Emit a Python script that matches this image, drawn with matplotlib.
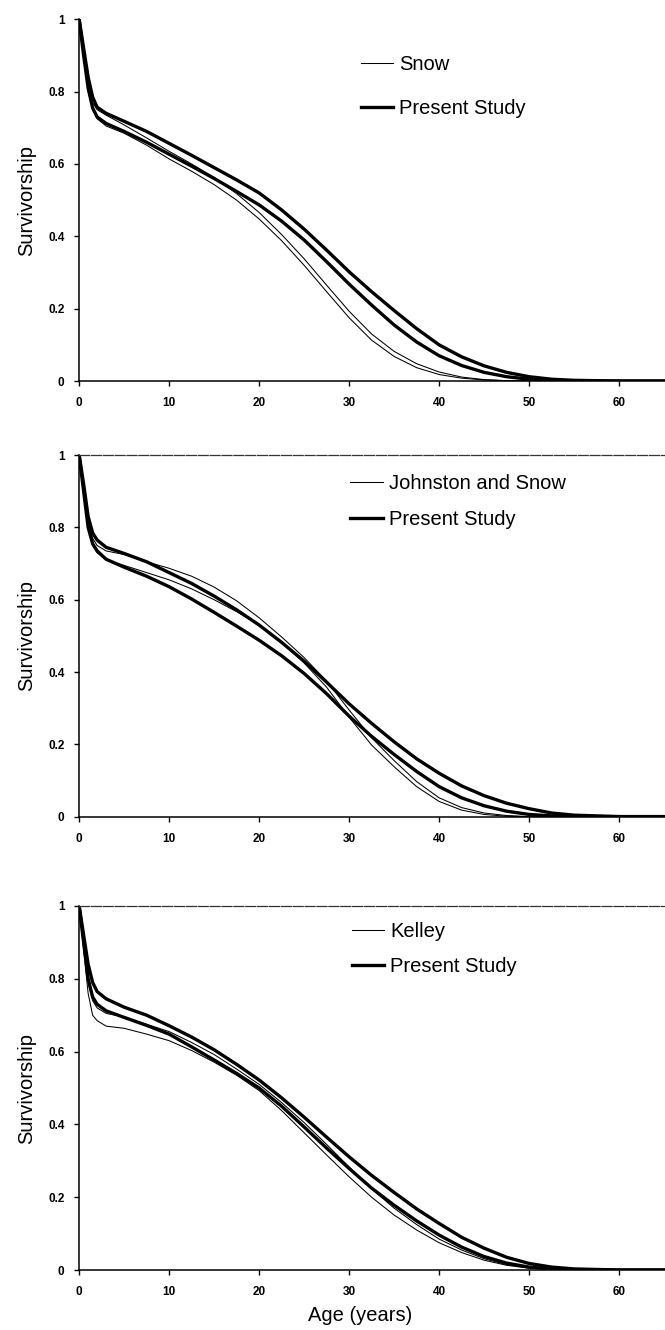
import numpy as np
import matplotlib
matplotlib.use("Agg")
import matplotlib.pyplot as plt

plt.rcParams['font.family'] = ['Liberation Sans', 'DejaVu Sans']

age = [0, 0.5, 1, 1.5, 2, 3, 5, 7.5, 10, 12.5, 15, 17.5, 20, 22.5, 25, 27.5,
       30, 32.5, 35, 37.5, 40, 42.5, 45, 47.5, 50, 52.5, 55, 60, 65]

# panel 1 - Snow
snow_a = [1, 0.91, 0.82, 0.77, 0.75, 0.735, 0.708, 0.672, 0.635, 0.6, 0.563, 0.518, 0.466, 0.405, 0.338, 0.265,
          0.193, 0.13, 0.082, 0.048, 0.025, 0.011, 0.004, 0.001, 0, 0, 0, 0, 0]
snow_b = [1, 0.9, 0.8, 0.75, 0.725, 0.705, 0.685, 0.652, 0.614, 0.58, 0.543, 0.5, 0.448, 0.388, 0.32, 0.247,
          0.175, 0.113, 0.068, 0.037, 0.018, 0.008, 0.003, 0.001, 0, 0, 0, 0, 0]
p1_a = [1, 0.92, 0.84, 0.785, 0.757, 0.74, 0.718, 0.69, 0.657, 0.624, 0.59, 0.556, 0.52, 0.473, 0.42, 0.362,
        0.302, 0.247, 0.195, 0.145, 0.1, 0.067, 0.042, 0.024, 0.012, 0.005, 0.002, 0, 0]
p1_b = [1, 0.9, 0.81, 0.755, 0.73, 0.712, 0.69, 0.66, 0.627, 0.594, 0.56, 0.524, 0.487, 0.442, 0.39, 0.33,
        0.268, 0.21, 0.155, 0.108, 0.07, 0.043, 0.024, 0.012, 0.005, 0.002, 0, 0, 0]

# panel 2 - Johnston and Snow
js_a = [1, 0.91, 0.82, 0.77, 0.75, 0.735, 0.725, 0.705, 0.687, 0.665, 0.635, 0.597, 0.55, 0.497, 0.44, 0.375,
        0.295, 0.218, 0.155, 0.097, 0.052, 0.025, 0.01, 0.003, 0, 0, 0, 0, 0]
js_b = [1, 0.9, 0.8, 0.75, 0.73, 0.71, 0.695, 0.675, 0.655, 0.63, 0.6, 0.567, 0.53, 0.482, 0.425, 0.358,
        0.275, 0.198, 0.138, 0.083, 0.042, 0.018, 0.006, 0.001, 0, 0, 0, 0, 0]
p2_a = [1, 0.92, 0.83, 0.785, 0.765, 0.745, 0.728, 0.705, 0.675, 0.645, 0.61, 0.572, 0.53, 0.482, 0.43, 0.372,
        0.312, 0.258, 0.207, 0.16, 0.12, 0.085, 0.058, 0.037, 0.022, 0.01, 0.004, 0, 0]
p2_b = [1, 0.9, 0.8, 0.755, 0.735, 0.712, 0.69, 0.665, 0.636, 0.602, 0.565, 0.527, 0.488, 0.445, 0.396, 0.34,
        0.278, 0.222, 0.172, 0.125, 0.083, 0.052, 0.03, 0.015, 0.006, 0.002, 0, 0, 0]

# panel 3 - Kelley
kel_a = [1, 0.9, 0.79, 0.74, 0.72, 0.705, 0.695, 0.675, 0.655, 0.625, 0.592, 0.552, 0.51, 0.46, 0.405, 0.345,
         0.283, 0.223, 0.17, 0.125, 0.085, 0.055, 0.031, 0.015, 0.006, 0.002, 0, 0, 0]
kel_b = [1, 0.88, 0.76, 0.7, 0.685, 0.67, 0.664, 0.648, 0.63, 0.603, 0.571, 0.535, 0.493, 0.438, 0.377, 0.316,
         0.256, 0.2, 0.151, 0.11, 0.075, 0.048, 0.027, 0.013, 0.005, 0.001, 0, 0, 0]
p3_a = [1, 0.92, 0.84, 0.79, 0.765, 0.745, 0.722, 0.7, 0.671, 0.64, 0.605, 0.565, 0.522, 0.473, 0.42, 0.365,
        0.311, 0.26, 0.213, 0.168, 0.128, 0.09, 0.06, 0.035, 0.018, 0.008, 0.003, 0, 0]
p3_b = [1, 0.9, 0.8, 0.75, 0.73, 0.712, 0.694, 0.672, 0.648, 0.613, 0.577, 0.54, 0.5, 0.45, 0.393, 0.335,
        0.279, 0.225, 0.178, 0.135, 0.096, 0.063, 0.037, 0.019, 0.008, 0.003, 0, 0, 0]

other_names = ["Snow", "Johnston and Snow", "Kelley"]
other_curves = [(snow_a, snow_b), (js_a, js_b), (kel_a, kel_b)]
present_curves = [(p1_a, p1_b), (p2_a, p2_b), (p3_a, p3_b)]

xticks = [0, 10, 20, 30, 40, 50, 60]
yticks = [0, 0.2, 0.4, 0.6, 0.8, 1]
ytick_labels = ["0", "0.2", "0.4", "0.6", "0.8", "1"]

fig = plt.figure(figsize=(6.65, 13.3), dpi=100)
# [left, bottom, width, height] for the three panels
boxes = [[0.119, 0.7135, 0.881, 0.272],
         [0.119, 0.3860, 0.881, 0.2718],
         [0.119, 0.0451, 0.881, 0.2737]]
leg_pos = [(0.45, 0.95), (0.432, 0.997), (0.435, 1.007)]
leg_space = [1.2, 0.85, 0.8]

for k in range(3):
    ax = fig.add_axes(boxes[k])
    ta, tb = other_curves[k]
    pa, pb = present_curves[k]
    l1, = ax.plot(age, ta, color='black', lw=0.75)
    ax.plot(age, tb, color='black', lw=0.75)
    l2, = ax.plot(age, pa, color='black', lw=2.4)
    ax.plot(age, pb, color='black', lw=2.4)

    ax.set_xlim(0, 65.1)
    ax.set_ylim(0, 1)
    ax.set_xticks(xticks)
    ax.set_yticks(yticks)
    ax.set_yticklabels(ytick_labels)
    ax.tick_params(direction='out', length=3.5, width=1, labelsize=8.5)
    ax.tick_params(axis='x', pad=8)
    ax.tick_params(axis='y', pad=7)
    for lab in ax.get_xticklabels() + ax.get_yticklabels():
        lab.set_fontweight('bold')
    ax.spines['right'].set_visible(False)
    if k == 0:
        ax.spines['top'].set_visible(False)
    else:
        ax.spines['top'].set_linestyle((0, (8, 1.5)))
        ax.spines['top'].set_linewidth(0.9)
        ax.spines['top'].set_color('#333333')
    ax.spines['left'].set_linewidth(1.1)
    ax.spines['bottom'].set_linewidth(1.1)

    ax.set_ylabel("Survivorship", fontsize=14.5, labelpad=9)
    ax.legend([l1, l2], [other_names[k], "Present Study"], loc='upper left',
              bbox_to_anchor=leg_pos[k], frameon=False, fontsize=14.5,
              handlelength=1.6, handletextpad=0.3, labelspacing=leg_space[k])
    if k == 2:
        ax.set_xlabel("Age (years)", fontsize=14.5, labelpad=6, x=0.48)

fig.savefig("out.png", dpi=100)
